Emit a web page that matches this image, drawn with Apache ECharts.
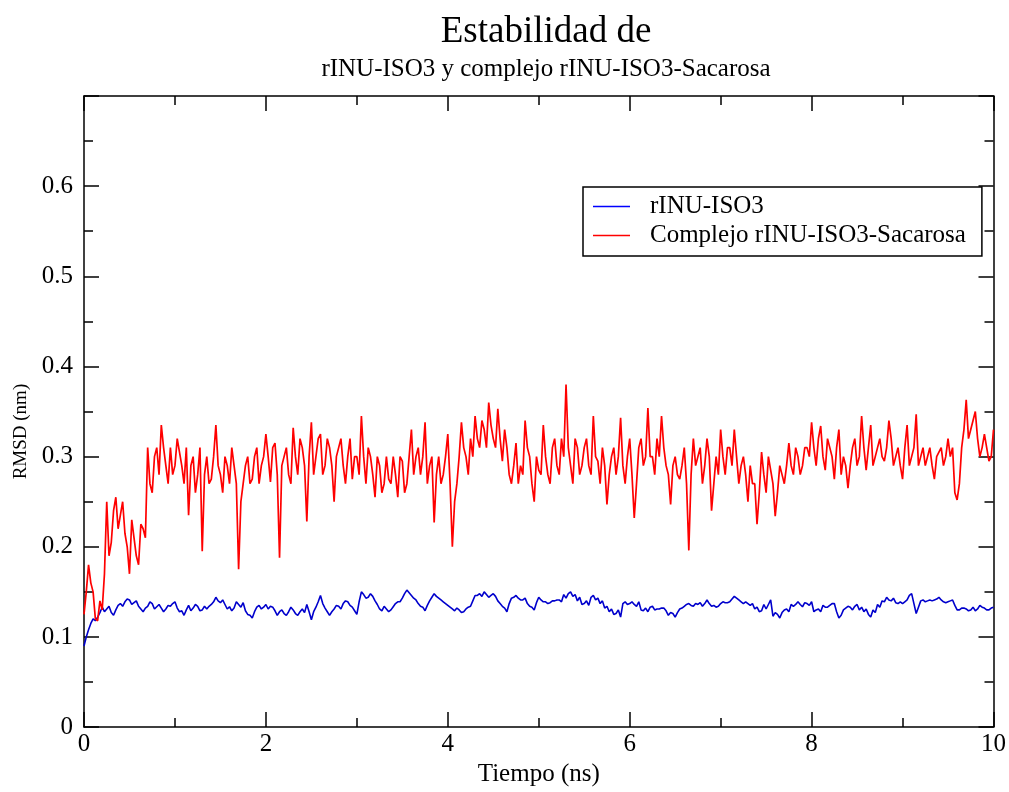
<!DOCTYPE html>
<html>
<head>
<meta charset="utf-8">
<script src="https://cdn.jsdelivr.net/npm/echarts@6/dist/echarts.min.js"></script>
<style>
  html, body { margin: 0; padding: 0; background: #fff; }
  #grafico { width: 1009px; height: 792px; }
</style>
</head>
<body>
<div id="grafico"></div>
<script>
// RMSD (nm): una muestra cada 0.05 ns (0 .. 10 ns)
// y otra a mitad de cada intervalo (0.025 .. 9.975 ns)
const paso = 0.05
const nombres = ["rINU-ISO3", "Complejo rINU-ISO3-Sacarosa"]
const ticksY = [0, 0.1, 0.2, 0.3, 0.4, 0.5, 0.6]

const rmsdProteina = [
  0.090, 0.108, 0.120, 0.122, 0.133, 0.131, 0.127, 0.130, 0.137, 0.139,
  0.141, 0.138, 0.134, 0.128, 0.134, 0.137, 0.1335, 0.132, 0.131, 0.134,
  0.139, 0.128, 0.124, 0.135, 0.132, 0.134, 0.130, 0.131, 0.136, 0.144,
  0.138, 0.136, 0.1335,
  0.132, 0.136, 0.138, 0.125, 0.121, 0.133, 0.131, 0.136, 0.134, 0.129,
  0.128, 0.126, 0.128, 0.130, 0.124, 0.131, 0.136, 0.119, 0.133, 0.146,
  0.132, 0.124, 0.131, 0.134, 0.137, 0.139, 0.133, 0.125, 0.150, 0.143,
  0.148, 0.140, 0.131, 0.134,
  0.128, 0.1335, 0.139, 0.143, 0.152, 0.146, 0.141, 0.134, 0.129, 0.140,
  0.148, 0.143, 0.139, 0.135, 0.131, 0.132, 0.127, 0.131, 0.134, 0.146,
  0.148, 0.150, 0.144, 0.148, 0.140, 0.134, 0.128, 0.143, 0.146, 0.141,
  0.143, 0.134, 0.130, 0.144,
  0.139, 0.137, 0.140, 0.141, 0.139, 0.143, 0.150, 0.147, 0.144, 0.137,
  0.135, 0.146, 0.143, 0.140, 0.134, 0.131, 0.126, 0.122, 0.139, 0.137,
  0.136, 0.139, 0.129, 0.128, 0.134, 0.131, 0.132, 0.129, 0.127, 0.122,
  0.131, 0.134, 0.137, 0.134,
  0.136, 0.134, 0.141, 0.134, 0.133, 0.137, 0.138, 0.139, 0.145, 0.141,
  0.137, 0.137, 0.137, 0.133, 0.129, 0.131, 0.141, 0.127, 0.121, 0.130,
  0.128, 0.134, 0.139, 0.1335, 0.137, 0.139, 0.130, 0.128, 0.133, 0.135,
  0.137, 0.121, 0.130,
  0.134, 0.130, 0.136, 0.133, 0.131, 0.122, 0.127, 0.133, 0.139, 0.141,
  0.143, 0.137, 0.137, 0.141, 0.148, 0.126, 0.140, 0.139, 0.141, 0.141,
  0.144, 0.139, 0.139, 0.141, 0.130, 0.132, 0.131, 0.130, 0.129, 0.135,
  0.132, 0.130, 0.133
]

const rmsdProteinaMedio = [
  0.100, 0.115, 0.118, 0.127, 0.128, 0.134, 0.124, 0.135, 0.134, 0.142,
  0.136, 0.140, 0.131, 0.132, 0.139, 0.131, 0.136, 0.128, 0.135, 0.137,
  0.132, 0.129, 0.130, 0.129, 0.136, 0.129, 0.134, 0.134, 0.139, 0.140,
  0.141, 0.131, 0.129, 0.139, 0.133, 0.129, 0.124, 0.128, 0.135, 0.133,
  0.131, 0.133, 0.124, 0.130, 0.124, 0.133, 0.126, 0.128, 0.127, 0.128,
  0.128, 0.139, 0.137, 0.128, 0.128, 0.135, 0.131, 0.140, 0.135, 0.129,
  0.139, 0.147, 0.144, 0.145, 0.136, 0.129, 0.131, 0.130, 0.137, 0.139,
  0.148, 0.149, 0.143, 0.137, 0.133, 0.135, 0.144, 0.145, 0.141, 0.137,
  0.133, 0.129, 0.130, 0.128, 0.133, 0.140, 0.146, 0.145, 0.147, 0.146,
  0.145, 0.137, 0.132, 0.137, 0.144, 0.143, 0.141, 0.137, 0.133, 0.138,
  0.141, 0.139, 0.138, 0.140, 0.141, 0.147, 0.148, 0.145, 0.140, 0.136,
  0.140, 0.144, 0.141, 0.137, 0.132, 0.128, 0.125, 0.130, 0.137, 0.136,
  0.139, 0.134, 0.130, 0.132, 0.133, 0.130, 0.131, 0.132, 0.124, 0.126,
  0.127, 0.132, 0.136, 0.135, 0.137, 0.138, 0.137, 0.137, 0.135, 0.134,
  0.139, 0.138, 0.142, 0.143, 0.139, 0.139, 0.135, 0.131, 0.128, 0.136,
  0.136, 0.123, 0.125, 0.127, 0.131, 0.136, 0.136, 0.136, 0.138, 0.135,
  0.128, 0.131, 0.135, 0.133, 0.137, 0.128, 0.124, 0.132, 0.133, 0.134,
  0.130, 0.128, 0.125, 0.130, 0.136, 0.140, 0.144, 0.140, 0.138, 0.139,
  0.139, 0.146, 0.137, 0.133, 0.141, 0.140, 0.140, 0.142, 0.141, 0.138,
  0.140, 0.135, 0.130, 0.132, 0.129, 0.133, 0.131, 0.133, 0.130, 0.132
]

const rmsdComplejo = [
  0.125, 0.180, 0.150, 0.118, 0.130, 0.250, 0.205, 0.255, 0.235, 0.215,
  0.170, 0.210, 0.180, 0.220, 0.310, 0.260, 0.310, 0.335, 0.290, 0.310,
  0.290, 0.305, 0.270, 0.235, 0.300, 0.280, 0.195, 0.300, 0.275, 0.335,
  0.280, 0.300, 0.270,
  0.290, 0.175, 0.270, 0.300, 0.275, 0.310, 0.290, 0.325, 0.272, 0.315,
  0.188, 0.300, 0.280, 0.332, 0.280, 0.310, 0.228, 0.338, 0.300, 0.325,
  0.290, 0.310, 0.250, 0.310, 0.290, 0.300, 0.275, 0.300, 0.345, 0.270,
  0.300, 0.255, 0.290, 0.270,
  0.275, 0.300, 0.255, 0.295, 0.270, 0.330, 0.300, 0.280, 0.338, 0.290,
  0.227, 0.300, 0.280, 0.325, 0.200, 0.270, 0.338, 0.300, 0.320, 0.345,
  0.310, 0.330, 0.360, 0.320, 0.353, 0.295, 0.310, 0.270, 0.315, 0.290,
  0.340, 0.300, 0.250, 0.285,
  0.335, 0.280, 0.310, 0.290, 0.320, 0.380, 0.290, 0.320, 0.280, 0.310,
  0.290, 0.345, 0.295, 0.310, 0.247, 0.300, 0.280, 0.343, 0.270, 0.320,
  0.232, 0.310, 0.290, 0.354, 0.300, 0.320, 0.345, 0.290, 0.247, 0.300,
  0.275, 0.310, 0.196, 0.320,
  0.300, 0.270, 0.320, 0.240, 0.300, 0.330, 0.280, 0.310, 0.330, 0.270,
  0.300, 0.250, 0.270, 0.225, 0.305, 0.260, 0.285, 0.234, 0.290, 0.270,
  0.315, 0.280, 0.300, 0.290, 0.310, 0.338, 0.290, 0.334, 0.285, 0.310,
  0.275, 0.330, 0.300,
  0.265, 0.310, 0.290, 0.345, 0.285, 0.335, 0.300, 0.320, 0.295, 0.340,
  0.290, 0.310, 0.275, 0.335, 0.300, 0.347, 0.300, 0.290, 0.310, 0.275,
  0.305, 0.290, 0.320, 0.310, 0.252, 0.310, 0.363, 0.330, 0.350, 0.300,
  0.325, 0.295, 0.330
]

const rmsdComplejoMedio = [
  0.15, 0.16, 0.12, 0.14, 0.17, 0.19, 0.24, 0.22, 0.25, 0.20,
  0.23, 0.19, 0.225, 0.21, 0.27, 0.30, 0.28, 0.31, 0.27, 0.28,
  0.32, 0.29, 0.31, 0.29, 0.26, 0.31, 0.28, 0.27, 0.30, 0.29,
  0.26, 0.29, 0.31, 0.27, 0.25, 0.29, 0.27, 0.30, 0.27, 0.30,
  0.30, 0.31, 0.28, 0.29, 0.31, 0.27, 0.30, 0.32, 0.29, 0.30,
  0.28, 0.32, 0.28, 0.32, 0.29, 0.30, 0.32, 0.27, 0.32, 0.30,
  0.28, 0.30, 0.31, 0.28, 0.30, 0.26, 0.30, 0.27, 0.28, 0.30,
  0.26, 0.30, 0.28, 0.31, 0.30, 0.27, 0.30, 0.28, 0.27, 0.30,
  0.27, 0.25, 0.30, 0.31, 0.28, 0.30, 0.32, 0.34, 0.31, 0.335,
  0.31, 0.32, 0.33, 0.28, 0.29, 0.27, 0.28, 0.31, 0.27, 0.30,
  0.28, 0.30, 0.27, 0.32, 0.28, 0.30, 0.31, 0.27, 0.31, 0.29,
  0.32, 0.28, 0.30, 0.27, 0.29, 0.28, 0.31, 0.30, 0.29, 0.30,
  0.28, 0.27, 0.32, 0.30, 0.30, 0.28, 0.30, 0.31, 0.28, 0.29,
  0.28, 0.29, 0.27, 0.28, 0.29, 0.31, 0.29, 0.30, 0.27, 0.28,
  0.30, 0.31, 0.29, 0.30, 0.29, 0.28, 0.29, 0.27, 0.26, 0.28,
  0.30, 0.27, 0.26, 0.28, 0.29, 0.29, 0.31, 0.28, 0.31, 0.30,
  0.31, 0.32, 0.30, 0.32, 0.30, 0.31, 0.28, 0.29, 0.29, 0.32,
  0.30, 0.31, 0.31, 0.29, 0.31, 0.30, 0.31, 0.32, 0.30, 0.29,
  0.31, 0.29, 0.31, 0.29, 0.31, 0.30, 0.29, 0.30, 0.31, 0.30,
  0.30, 0.26, 0.27, 0.33, 0.32, 0.34, 0.32, 0.31, 0.31, 0.30
]

const fuente = "'Liberation Serif', 'DejaVu Serif', serif"

// junta las muestras de cada 0.05 ns con las de mitad de intervalo
function intercalar(base, medios) {
  let puntos = []
  base.forEach((v, i) => {
    puntos.push([+(i * paso).toFixed(3), v])
    if (i < medios.length) puntos.push([+(i * paso + paso / 2).toFixed(3), medios[i]])
  })
  return puntos
}

let myChart = echarts.init(document.getElementById("grafico"))

let ejeX = {
  type: "value",
  min: 0,
  max: 10,
  interval: 2,
  axisLine: { show: true, onZero: false, lineStyle: { color: "#000", width: 1.5 } },
  axisTick: { show: true, inside: true, length: 15, lineStyle: { color: "#000", width: 1.5 } },
  minorTick: { show: true, splitNumber: 2, length: 9, lineStyle: { color: "#000", width: 1.5 } },
  splitLine: { show: false },
}

let ejeY = {
  type: "value",
  min: 0,
  max: 0.7,
  interval: 0.1,
  axisLine: { show: true, onZero: false, lineStyle: { color: "#000", width: 1.5 } },
  axisTick: { show: true, inside: true, length: 15, lineStyle: { color: "#000", width: 1.5 } },
  minorTick: { show: true, splitNumber: 2, length: 9, lineStyle: { color: "#000", width: 1.5 } },
  splitLine: { show: false },
}

let option = {
  animation: false,
  backgroundColor: "#fff",
  title: {
    text: "Estabilidad de",
    subtext: "rINU-ISO3 y complejo rINU-ISO3-Sacarosa",
    left: 541,
    top: 9,
    textAlign: "center",
    itemGap: 6,
    textStyle: { fontFamily: fuente, fontSize: 37, fontWeight: "normal", color: "#000" },
    subtextStyle: { fontFamily: fuente, fontSize: 25, color: "#000" },
  },
  legend: {
    orient: "vertical",
    left: 583,
    top: 187,
    padding: [7, 16, 8, 10],
    itemGap: 4,
    itemWidth: 37,
    itemHeight: 1.5,
    icon: "rect",
    borderColor: "#000",
    borderWidth: 1.5,
    textStyle: { fontFamily: fuente, fontSize: 25, color: "#000", padding: [0, 0, 0, 15] },
    data: nombres,
  },
  grid: { left: 84, right: 15, top: 96, bottom: 57 },
  xAxis: [
    Object.assign({}, ejeX, {
      position: "bottom",
      name: "Tiempo (ns)",
      nameLocation: "middle",
      nameGap: 30,
      nameTextStyle: { fontFamily: fuente, fontSize: 25, color: "#000" },
      axisLabel: { fontFamily: fuente, fontSize: 25, color: "#000", margin: 5 },
    }),
    Object.assign({}, ejeX, { position: "top", axisLabel: { show: false } }),
  ],
  yAxis: [
    Object.assign({}, ejeY, {
      position: "left",
      name: "RMSD (nm)",
      nameLocation: "middle",
      nameGap: 50,
      nameTextStyle: { fontFamily: fuente, fontSize: 19, color: "#000", padding: [0, 40, 0, 0] },
      axisLabel: {
        fontFamily: fuente,
        fontSize: 25,
        color: "#000",
        margin: 11,
        formatter: (v) => ticksY.some((t) => Math.abs(t - v) < 1e-9) ? String(+v.toFixed(1)) : "",
      },
    }),
    Object.assign({}, ejeY, { position: "right", axisLabel: { show: false } }),
  ],
  series: [
    {
      name: nombres[0],
      type: "line",
      data: intercalar(rmsdProteina, rmsdProteinaMedio),
      showSymbol: false,
      color: "#0000ff",
      lineStyle: { width: 1.6, color: "#0000cc" },
    },
    {
      name: nombres[1],
      type: "line",
      data: intercalar(rmsdComplejo, rmsdComplejoMedio),
      showSymbol: false,
      color: "#ff0000",
      lineStyle: { width: 1.7, color: "#ff0000" },
    },
  ],
}

myChart.setOption(option)
</script>
</body>
</html>
